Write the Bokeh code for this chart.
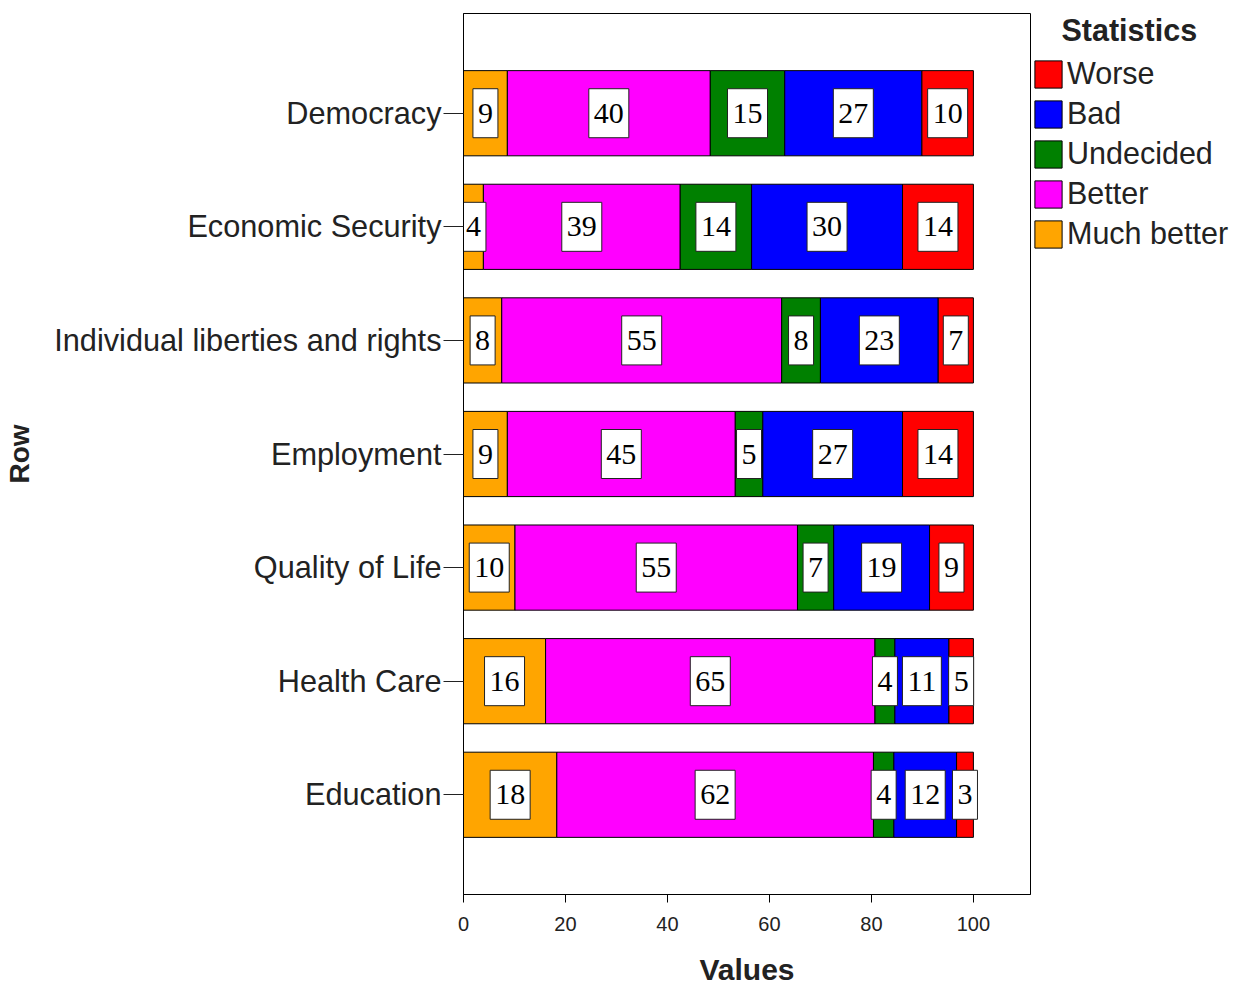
from bokeh.plotting import figure
from bokeh.layouts import row
from bokeh.models import (ColumnDataSource, FactorRange, Range1d, FixedTicker,
                          Legend, LegendItem)
from bokeh.core.properties import value
from bokeh.embed import file_html
from bokeh.resources import INLINE

# ---------------- data ----------------
categories = ["Democracy", "Economic Security", "Individual liberties and rights",
              "Employment", "Quality of Life", "Health Care", "Education"]
much_better = [8.6, 3.9, 7.5, 8.6, 10.1, 16.1, 18.3]
better = [39.8, 38.6, 54.9, 44.7, 55.4, 64.6, 62.1]
undecided = [14.6, 14.0, 7.6, 5.4, 7.1, 3.9, 4.0]
bad = [26.9, 29.6, 23.1, 27.4, 18.8, 10.6, 12.3]
worse = [10.1, 13.9, 6.9, 13.9, 8.6, 4.8, 3.3]

series_names = ["Much better", "Better", "Undecided", "Bad", "Worse"]
series_colors = ["#FFA500", "#FF00FF", "#008000", "#0000FF", "#FF0000"]
legend_order = ["Worse", "Bad", "Undecided", "Better", "Much better"]
legend_title = "Statistics"
x_ticks = [0, 20, 40, 60, 80, 100]

series_values = [much_better, better, undecided, bad, worse]

# ---------------- sources ----------------
data = {"cat": categories}
for name, vals in zip(series_names, series_values):
    data[name] = vals
source = ColumnDataSource(data)

lab_x, lab_y, lab_t = [], [], []
for i, cat in enumerate(categories):
    left = 0.0
    for vals in series_values:
        v = vals[i]
        lab_x.append(left + v / 2.0)
        lab_y.append(cat)
        lab_t.append(str(int(v + 0.5)))
        left += v
label_source = ColumnDataSource(dict(x=lab_x, y=lab_y, t=lab_t))

# ---------------- main figure ----------------
p = figure(width=1031, height=988,
           x_range=Range1d(0, 111.2),
           y_range=FactorRange(*list(reversed(categories)), range_padding=0.378,
                               range_padding_units="absolute"),
           output_backend="svg", toolbar_location=None,
           min_border_left=463, min_border_right=1,
           min_border_top=12, min_border_bottom=90)

p.background_fill_color = "white"
p.border_fill_color = "white"
p.outline_line_color = "black"
p.outline_line_width = 1
p.xgrid.visible = False
p.ygrid.visible = False

renderers = p.hbar_stack(series_names, y="cat", height=0.75, color=series_colors,
                         line_color="black", line_width=1, source=source)

p.text(x="x", y="y", text="t", source=label_source,
       text_font=value("Liberation Serif"), text_font_size="30px",
       text_color="black", text_align="center", text_baseline="middle",
       background_fill_color="white", border_line_color="#222222",
       border_line_width=1,
       padding=dict(left=5, right=5, top=15, bottom=15))

xa = p.xaxis[0]
xa.ticker = FixedTicker(ticks=x_ticks)
xa.minor_tick_line_color = None
xa.major_tick_out = 8
xa.major_tick_in = 0
xa.major_tick_line_color = "black"
xa.axis_line_color = "black"
xa.major_label_text_font = "Liberation Sans"
xa.major_label_text_font_size = "20px"
xa.major_label_text_color = "#222222"
xa.major_label_standoff = 14
xa.axis_label = "Values"
xa.axis_label_text_font = "Liberation Sans"
xa.axis_label_text_font_style = "bold"
xa.axis_label_text_font_size = "30px"
xa.axis_label_text_color = "#222222"
xa.axis_label_standoff = 19

ya = p.yaxis[0]
ya.major_tick_out = 20
ya.major_tick_in = 0
ya.major_tick_line_color = "#222222"
ya.axis_line_color = "black"
ya.major_label_text_font = "Liberation Sans"
ya.major_label_text_font_size = "30.7px"
ya.major_label_text_color = "#222222"
ya.major_label_standoff = 2
ya.axis_label = "Row"
ya.axis_label_text_font = "Liberation Sans"
ya.axis_label_text_font_style = "bold"
ya.axis_label_text_font_size = "28px"
ya.axis_label_text_color = "#222222"
ya.axis_label_standoff = 16

# ---------------- legend figure ----------------
q = figure(width=203, height=988, x_range=(0, 1), y_range=(0, 1),
           x_axis_type=None, y_axis_type=None,
           output_backend="svg", toolbar_location=None,
           min_border_left=0, min_border_right=0,
           min_border_top=13, min_border_bottom=0)
q.outline_line_color = None
q.xgrid.visible = False
q.ygrid.visible = False

# legend key renderers: one point each, placed outside the visible range
swatch = {}
for name, color in zip(series_names, series_colors):
    swatch[name] = q.rect(x=[5], y=[5], width=[0.1], height=[0.1],
                          fill_color=color, line_color="black", line_width=1)

items = [LegendItem(label=n, renderers=[swatch[n]]) for n in legend_order]
legend = Legend(items=items, location="top_left", orientation="vertical",
                title="\u2002\u2002" + legend_title,
                title_text_font="Liberation Sans", title_text_font_size="30.5px",
                title_text_font_style="bold", title_text_color="#222222",
                title_standoff=8,
                padding=1, margin=0, spacing=5,
                glyph_width=34, glyph_height=34, label_standoff=2,
                label_height=34,
                label_text_font="Liberation Sans", label_text_font_size="30.5px",
                label_text_color="#222222",
                border_line_color=None, background_fill_alpha=0)
q.add_layout(legend)

layout = row(p, q)
open("out.html", "w").write(file_html(layout, INLINE))
